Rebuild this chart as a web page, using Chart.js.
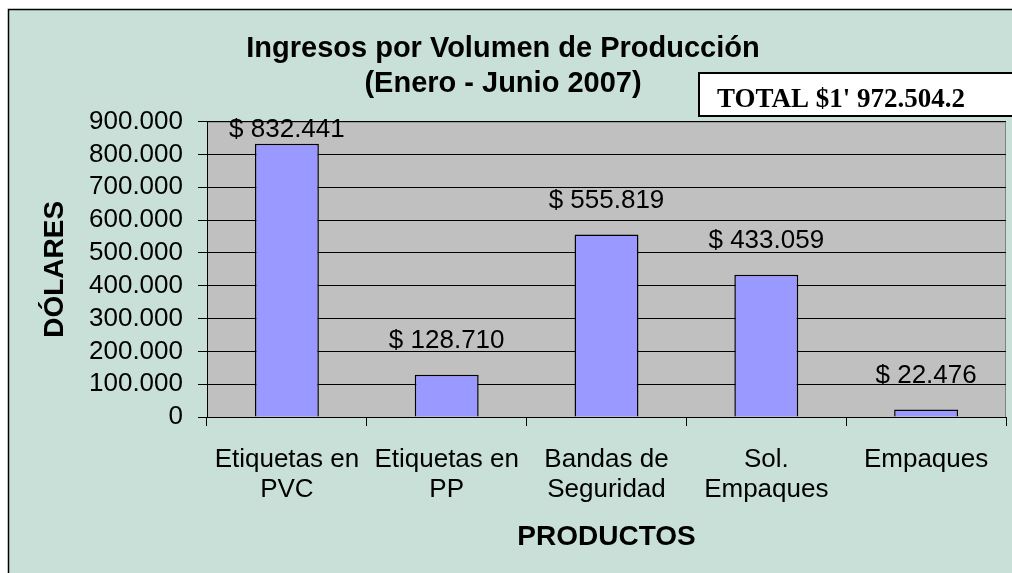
<!DOCTYPE html>
<html>
<head>
<meta charset="utf-8">
<script src="https://cdn.jsdelivr.net/npm/chart.js@4.4.1/dist/chart.umd.min.js"></script>
<style>
  html, body { margin: 0; padding: 0; background: #fff; }
  #wrap { width: 1012px; height: 573px; }
</style>
</head>
<body>
<div id="wrap"><canvas id="chart" width="1012" height="573"></canvas></div>
<script>
// Datos del gráfico
const productos = [
    ['Etiquetas en', 'PVC'],
    ['Etiquetas en', 'PP'],
    ['Bandas de', 'Seguridad'],
    ['Sol.', 'Empaques'],
    ['Empaques']
];
const ingresos = [832441, 128710, 555819, 433059, 22476];
const etiquetasValor = ['$ 832.441', '$ 128.710', '$ 555.819', '$ 433.059', '$ 22.476'];
const tituloLineas = ['Ingresos por Volumen de Producción', '(Enero - Junio 2007)'];
const textoTotal = "TOTAL $1' 972.504.2";

const FONT = 'Arial, "Liberation Sans", sans-serif';

// fondo verde, marco exterior, área gris del gráfico
const fondoPlugin = {
    id: 'fondo',
    beforeDraw(chart) {
        const ctx = chart.ctx;
        const a = chart.chartArea;
        ctx.save();
        ctx.fillStyle = '#fff';
        ctx.fillRect(0, 0, chart.width, chart.height);
        ctx.fillStyle = '#C8E0D8';
        ctx.fillRect(8, 9, chart.width, chart.height);
        ctx.strokeStyle = '#000';
        ctx.lineWidth = 1.5;
        ctx.strokeRect(8.5, 9.5, chart.width + 10, chart.height + 10);
        ctx.fillStyle = '#C0C0C0';
        ctx.fillRect(a.left, a.top, a.right - a.left, a.bottom - a.top);
        ctx.strokeStyle = '#808080';
        ctx.lineWidth = 1;
        ctx.strokeRect(a.left + 0.5, a.top + 0.5, a.right - a.left - 1, a.bottom - a.top);
        ctx.restore();
    },
    afterDraw(chart) {
        // cuadro con el total
        const ctx = chart.ctx;
        ctx.save();
        ctx.fillStyle = '#fff';
        ctx.fillRect(698, 72, 320, 44);
        ctx.strokeStyle = '#000';
        ctx.lineWidth = 2;
        ctx.strokeRect(699, 73, 320, 43);
        ctx.fillStyle = '#000';
        ctx.font = 'bold 27px "Liberation Serif", "Times New Roman", serif';
        ctx.textBaseline = 'alphabetic';
        ctx.textAlign = 'left';
        ctx.fillText(textoTotal, 717, 107);
        ctx.restore();
    }
};

// etiquetas de valor sobre las barras
const valoresPlugin = {
    id: 'valores',
    afterDatasetsDraw(chart) {
        const ctx = chart.ctx;
        const meta = chart.getDatasetMeta(0);
        ctx.save();
        ctx.font = '26px ' + FONT;
        ctx.fillStyle = '#000';
        ctx.textAlign = 'center';
        ctx.textBaseline = 'middle';
        meta.data.forEach((bar, i) => {
            const y = Math.max(bar.y - 34, chart.chartArea.top + 8);
            ctx.fillText(etiquetasValor[i], bar.x, y);
        });
        ctx.restore();
    }
};

new Chart(document.getElementById('chart').getContext('2d'), {
    type: 'bar',
    data: {
        labels: productos,
        datasets: [{
            label: 'Ingresos',
            data: ingresos,
            backgroundColor: '#9999FF',
            borderColor: '#000',
            borderWidth: 1.5,
            categoryPercentage: 1,
            barPercentage: 0.4
        }]
    },
    options: {
        responsive: false,
        animation: false,
        layout: { padding: { left: 0, right: 6, top: 0, bottom: 0 } },
        plugins: {
            legend: { display: false },
            tooltip: { enabled: false },
            title: {
                display: true,
                text: tituloLineas,
                color: '#000',
                font: { family: FONT, size: 29, weight: 'bold', lineHeight: 1.2 },
                padding: { top: 32, bottom: 20 }
            }
        },
        scales: {
            x: {
                afterFit: s => { s.height = 156; },
                grid: { drawOnChartArea: false, drawTicks: true, tickLength: 9, color: '#000' },
                border: { color: '#000' },
                ticks: {
                    color: '#000',
                    padding: 19,
                    maxRotation: 0,
                    autoSkip: false,
                    font: { family: FONT, size: 26, lineHeight: 1.15 }
                },
                title: {
                    display: true,
                    text: 'PRODUCTOS',
                    color: '#000',
                    font: { family: FONT, size: 28, weight: 'bold', lineHeight: 1.2 },
                    padding: { top: 0, bottom: 19 }
                }
            },
            y: {
                min: 0,
                max: 900000,
                afterFit: s => { s.width = 207; },
                grid: { color: '#000', tickLength: 9, lineWidth: 1 },
                border: { color: '#000' },
                ticks: {
                    stepSize: 100000,
                    autoSkip: false,
                    color: '#000',
                    padding: 15,
                    font: { family: FONT, size: 26, lineHeight: 1 },
                    callback: v => v === 0 ? '0' : v.toLocaleString('de-DE')
                },
                title: {
                    display: true,
                    text: 'DÓLARES',
                    color: '#000',
                    font: { family: FONT, size: 28, weight: 'bold', lineHeight: 1.2 },
                    padding: { top: 38, bottom: 0 }
                }
            }
        }
    },
    plugins: [fondoPlugin, valoresPlugin]
});
</script>
</body>
</html>
